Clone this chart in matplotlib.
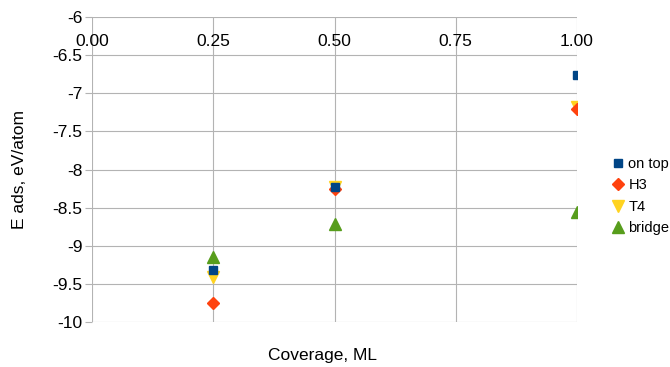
import matplotlib
matplotlib.use("Agg")
import matplotlib.pyplot as plt

coverage = [0.25, 0.50, 1.00]
on_top = [-9.32, -8.23, -6.76]
h3 = [-9.75, -8.26, -7.21]
t4 = [-9.41, -8.23, -7.18]
bridge = [-9.15, -8.71, -8.56]

xticks = [0.0, 0.25, 0.5, 0.75, 1.0]
xticklabels = ["0.00", "0.25", "0.50", "0.75", "1.00"]
yticks = [-6, -6.5, -7, -7.5, -8, -8.5, -9, -9.5, -10]
yticklabels = ["-6", "-6.5", "-7", "-7.5", "-8", "-8.5", "-9", "-9.5", "-10"]

plt.rcParams['font.family'] = ['Liberation Sans', 'DejaVu Sans']
fig = plt.figure(figsize=(6.7, 3.67), dpi=100)
ax = fig.add_axes([92/670, 1 - 322/367, (577-92)/670, (322-17)/367])

ax.plot(coverage, bridge, linestyle='none', marker='^', color='#579d1c', markersize=8.5, label='bridge', zorder=3)
ax.plot(coverage, t4, linestyle='none', marker='v', color='#ffd320', markersize=8.5, label='T4', zorder=4)
ax.plot(coverage, h3, linestyle='none', marker='D', color='#ff420e', markersize=6, label='H3', zorder=5)
ax.plot(coverage, on_top, linestyle='none', marker='s', color='#004586', markersize=5.5, label='on top', zorder=6)

ax.set_xlim(0, 1)
ax.set_ylim(-10, -6)
ax.set_xticks(xticks)
ax.set_xticklabels(xticklabels)
ax.set_yticks(yticks)
ax.set_yticklabels(yticklabels)

for s in ['top', 'right', 'left']:
    ax.spines[s].set_visible(False)
ax.spines['bottom'].set_position(('data', -6))
ax.spines['bottom'].set_visible(False)

ax.grid(True, color='#b3b3b3', linewidth=0.8)
ax.set_axisbelow(True)
ax.tick_params(axis='x', length=0, pad=12, labelsize=12.5, colors='black')
ax.tick_params(axis='y', length=5, width=0.8, color='#b3b3b3', pad=2, labelsize=12.5)

ax.set_xlabel("Coverage, ML", fontsize=12.5)
ax.xaxis.set_label_coords((322-92)/485, -0.085)
ax.set_ylabel("E ads, eV/atom", fontsize=12.5)
ax.yaxis.set_label_coords(-0.135, 0.5)

handles, labels = ax.get_legend_handles_labels()
order = [3, 2, 1, 0]
leg = fig.legend([handles[i] for i in order], [labels[i] for i in order],
                 loc='center left', bbox_to_anchor=(605/670, 1 - 196/367),
                 frameon=False, fontsize=10.5, handlelength=0.8, handletextpad=0.3,
                 labelspacing=0.5, borderpad=0)
fig.savefig("out.png", dpi=100)
